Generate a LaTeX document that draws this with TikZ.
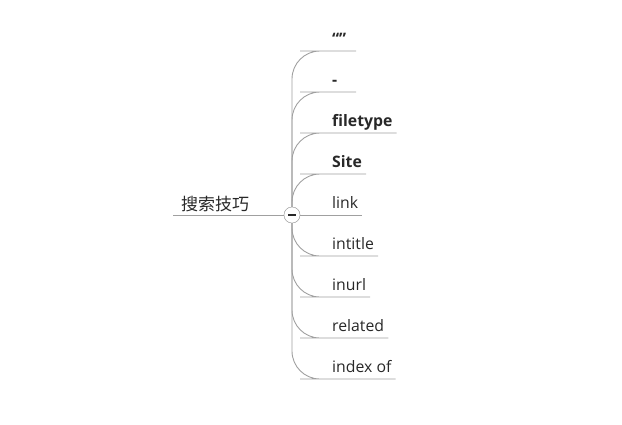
\documentclass[tikz,border=0pt]{standalone}
\usepackage{fontspec}
\setmainfont{Open Sans}
\newfontfamily\cjk{Noto Sans CJK SC}
\definecolor{branchgray}{RGB}{160,160,160}
\definecolor{textgray}{RGB}{40,40,40}
\begin{document}
\begin{tikzpicture}[
  x=1pt, y=-1pt,
  every node/.style={text=textgray},
  leaf/.style={anchor=south west, inner xsep=4pt, inner ysep=2.5pt,
    text height=11pt, text depth=4pt, font=\fontsize{15.8}{18}\selectfont},
  bold/.style={font=\fontsize{15.8}{18}\selectfont\bfseries},
  root/.style={anchor=south west, inner xsep=8pt, inner ysep=2.5pt,
    text height=13pt, text depth=2pt, font=\cjk\fontsize{17}{20}\selectfont},
  toggle/.style={draw=branchgray, fill=white, circle, minimum size=16pt, inner sep=0pt},
  branch/.style={draw=branchgray, line width=0.9pt, rounded corners=28pt}
  ]
  \useasboundingbox (0,0) rectangle (622,424);
  % root and collapse button
  \node[root](search) at (173,215) {搜索技巧};
  \node[toggle](btn) at (292,215) {};
  % children
  \node[leaf,bold](quotes) at (328,51) {“”};
  \node[leaf,bold](minus) at (328,92) {-};
  \node[leaf,bold](filetype) at (328,133) {filetype};
  \node[leaf,bold](site) at (328,174) {Site};
  \node[leaf](link) at (328,215) {link};
  \node[leaf](intitle) at (328,256) {intitle};
  \node[leaf](inurl) at (328,297) {inurl};
  \node[leaf](related) at (328,338) {related};
  \node[leaf](indexof) at (328,379) {index of};
  % connectors
  \draw[branch] (search.south west) -- (btn.west);
  \foreach \n in {quotes,minus,filetype,site}
    \draw[branch] (btn.north) |- (\n.south west) -- (\n.south east);
  \draw[branch] (btn.east) -- (link.south east);
  \foreach \n in {intitle,inurl,related,indexof}
    \draw[branch] (btn.south) |- (\n.south west) -- (\n.south east);
  \node[toggle] at (btn) {};
  \draw[textgray, line width=1.6pt] ([xshift=-4pt]btn.center) -- ([xshift=4pt]btn.center);
\end{tikzpicture}
\end{document}
